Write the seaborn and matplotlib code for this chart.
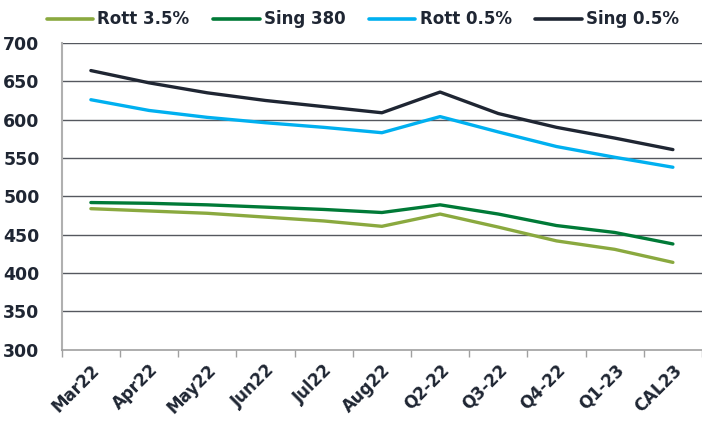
import numpy as np
import pandas as pd
import seaborn as sns
import matplotlib.pyplot as plt

sns.set_style('white')
plt.rcParams['font.family'] = ['DejaVu Sans']

# categories on the x axis
periods = ['Mar22', 'Apr22', 'May22', 'Jun22', 'Jul22', 'Aug22',
           'Q2-22', 'Q3-22', 'Q4-22', 'Q1-23', 'CAL23']

# prices
rott_35 = [484, 481, 478, 473, 468, 461, 477, 460, 442, 431, 414]
sing_380 = [492, 491, 489, 486, 483, 479, 489, 477, 462, 453, 438]
rott_05 = [626, 612, 603, 596, 590, 583, 604, 584, 565, 551, 538]
sing_05 = [664, 648, 635, 625, 617, 609, 636, 608, 590, 576, 561]

series_names = ['Rott 3.5%', 'Sing 380', 'Rott 0.5%', 'Sing 0.5%']
colors = ['#8aa93f', '#007a37', '#00b0f0', '#1f2633']

rows = []
for name, vals in zip(series_names, [rott_35, sing_380, rott_05, sing_05]):
    for i, v in enumerate(vals):
        rows.append({'pos': i, 'price': v, 'series': name})
df = pd.DataFrame(rows)

text_col = '#1f2633'

fig = plt.figure(figsize=(7.02, 4.21), dpi=100)
ax = fig.add_axes([0.088, 0.169, 0.912, 0.729])

# horizontal gridlines
for y in range(350, 701, 50):
    ax.axhline(y, color='#55585f', lw=1.0, zorder=0)

sns.lineplot(data=df, x='pos', y='price', hue='series', hue_order=series_names,
             palette=colors, linewidth=2.4, ax=ax, legend=True)

ax.set_xlim(-0.5, 10.5)
ax.set_ylim(300, 700)
ax.set_yticks(range(300, 701, 50))
ax.set_xlabel('')
ax.set_ylabel('')

# tick marks on category boundaries, labels at centers
ax.set_xticks(np.arange(-0.5, 10.6, 1.0))
ax.set_xticklabels([])
ax.set_xticks(np.arange(len(periods)), minor=True)
ax.set_xticklabels(periods, minor=True, rotation=45, ha='right',
                   rotation_mode='anchor', fontsize=12, fontweight='bold',
                   color=text_col)
ax.tick_params(axis='x', which='major', length=5, color='#a0a0a0', width=1, direction='out', bottom=True)
ax.tick_params(axis='x', which='minor', length=0, pad=8)
ax.tick_params(axis='y', length=0, pad=16, labelsize=12.5, labelcolor=text_col)
for lab in ax.get_yticklabels():
    lab.set_fontweight('bold')

for s in ['top', 'right']:
    ax.spines[s].set_visible(False)
ax.spines['left'].set_color('#b0b0b0')
ax.spines['left'].set_linewidth(1.5)
ax.spines['bottom'].set_color('#a0a0a0')
ax.spines['bottom'].set_linewidth(1.2)

leg = ax.legend(loc='upper center', bbox_to_anchor=(0.47, 1.155), ncol=4,
                frameon=False, handlelength=2.8, handletextpad=0.25,
                columnspacing=1.4, prop={'weight': 'bold', 'size': 12})
for t in leg.get_texts():
    t.set_color(text_col)
for h in leg.get_lines():
    h.set_linewidth(2.6)

fig.savefig('out.png', dpi=100)
